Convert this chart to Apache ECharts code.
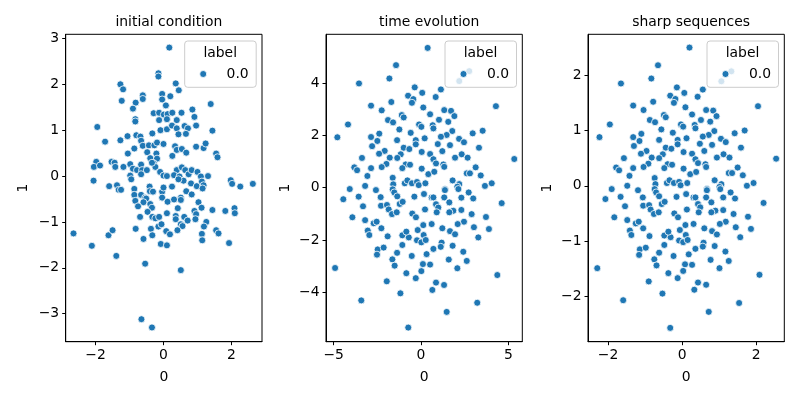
<!DOCTYPE html>
<html>
<head>
<meta charset="utf-8">
<script src="https://cdn.jsdelivr.net/npm/echarts@6/dist/echarts.min.js"></script>
<style>
  html, body { margin: 0; padding: 0; background: #fff; }
  #chart { width: 800px; height: 400px; }
</style>
</head>
<body>
<div id="chart"></div>
<script>
// panel titles
const titles = ['initial condition', 'time evolution', 'sharp sequences']
const legendTitle = 'label'
const seriesName = '0.0'

// initial condition
const initX = [-0.15,-0.15,-1.27,-1.19,-1.23,-0.61,-0.61,-0.82,-0.90,-0.04,
  -0.04,-1.95,-0.83,-0.83,-0.29,-0.13,-0.13,0.01,-0.09,-0.33,
  -1.72,-1.27,-1.06,-0.80,-0.68,-0.66,-0.86,-0.61,-0.43,-0.27,
  -0.19,-0.48,-0.21,-1.05,-0.39,-0.19,-0.29,-0.24,-1.98,-2.05,
  -1.87,-1.53,-1.44,-1.42,-1.18,-0.98,-0.90,-0.78,-0.66,-0.63,
  -0.49,-0.98,-0.66,-0.34,-0.10,0.00,-2.06,-1.60,-1.37,-0.86,
  -0.95,-0.41,
  -1.32,-1.25,-0.86,-0.66,-0.54,-0.51,-0.40,-0.31,-0.04,-0.04,
  -0.83,-0.59,-0.75,-0.39,-0.34,-0.47,-0.69,-0.33,-0.24,-0.13,
  -0.15,-0.06,-2.65,-2.11,-1.62,-1.50,-1.39,-0.82,-0.59,-0.37,
  -0.33,-0.54,-0.08,-0.65,-0.34,
  0.17,0.36,0.45,0.20,0.07,1.39,0.12,0.26,0.53,0.85,
  0.10,0.39,0.91,0.96,0.10,0.25,0.39,0.62,0.72,0.44,
  0.66,1.44,0.00,0.34,0.39,0.54,0.67,0.26,0.96,1.18,
  1.24,1.55,1.59,0.10,0.39,0.31,0.47,0.54,0.64,0.74,
  0.83,1.00,1.10,1.31,0.59,0.44,0.81,0.98,1.13,1.18,
  0.00,0.25,1.98,2.02,2.26,2.63,
  0.12,0.31,0.51,0.51,0.67,0.83,1.15,0.42,0.10,0.36,
  0.36,0.61,0.71,0.91,0.96,0.94,1.03,1.12,1.44,1.82,
  2.09,2.10,0.51,0.56,0.08,0.19,0.41,1.26,1.19,1.13,
  1.14,1.55,1.62,1.93,0.10,0.51]
const initY = [2.24,2.17,2.00,1.89,1.64,1.76,1.68,1.60,1.47,1.79,
  1.67,1.07,1.24,1.19,1.37,1.38,1.22,1.34,1.00,0.93,
  0.75,0.78,0.87,0.89,0.86,0.77,0.60,0.66,0.67,0.67,
  0.73,0.52,0.49,0.49,0.39,0.38,0.28,0.20,0.31,0.20,
  0.23,0.31,0.29,0.20,0.20,0.26,0.16,0.13,0.25,0.13,
  0.13,0.01,0.04,0.29,0.09,0.01,-0.10,-0.22,-0.20,-0.28,
  -0.07,-0.23,
  -0.30,-0.30,-0.41,-0.41,-0.47,-0.49,-0.33,-0.34,-0.34,-0.47,
  -0.54,-0.57,-0.66,-0.61,-0.69,-0.78,-0.89,-0.89,-0.92,-0.89,
  -1.10,-1.05,-1.25,-1.52,-1.29,-1.18,-1.74,-1.15,-1.37,-1.15,
  -1.29,-1.91,-1.48,-3.12,-3.30,
  2.80,2.02,1.87,1.74,1.54,1.57,1.35,1.38,1.38,1.45,
  1.24,1.22,1.29,1.10,1.02,1.10,1.04,1.09,1.04,0.91,
  0.92,0.99,0.70,0.65,0.57,0.59,0.51,0.44,0.64,0.61,
  0.71,0.49,0.41,0.00,0.13,0.02,-0.01,0.19,0.13,0.04,
  0.13,0.09,-0.01,0.00,-0.10,-0.07,-0.16,-0.22,-0.12,-0.20,
  -0.25,-0.23,-0.09,-0.17,-0.23,-0.17,
  -0.56,-0.51,-0.47,-0.52,-0.33,-0.40,-0.27,-0.70,-0.81,-0.87,
  -0.94,-0.89,-0.97,-0.76,-0.83,-0.94,-0.57,-0.69,-0.74,-0.76,
  -0.70,-0.81,-1.05,-1.09,-1.20,-1.27,-1.18,-1.00,-1.10,-1.26,
  -1.40,-1.18,-1.25,-1.46,-1.51,-2.05]

// time evolution
const timeX = [-1.43,-1.81,-3.55,-0.36,0.07,-0.74,-0.44,-0.52,-1.70,-2.86,
  -2.25,0.13,-1.10,-0.99,-1.89,-1.60,-4.18,-0.11,0.02,-1.24,
  -0.59,-4.79,-2.86,-2.39,-2.50,-2.80,-1.37,-0.30,-0.30,0.21,
  -0.99,-0.67,-2.08,-2.40,-1.16,-1.36,-1.79,0.04,-3.38,-1.98,
  -2.25,-0.88,-0.63,-1.07,0.04,-3.82,-3.66,-2.86,-3.07,-1.62,
  -4.08,-3.20,-2.58,-1.59,-1.62,-0.93,-0.78,-0.52,-0.23,-0.13,
  0.25,-1.53,-1.36,-4.45,-3.57,-3.32,-2.31,-2.29,-1.95,-1.85,
  -1.66,-1.39,-1.22,-1.05,-0.38,0.17,-3.93,-3.20,-2.71,-2.54,
  -2.27,-3.05,-2.96,-1.91,-0.50,-0.29,0.23,-1.07,-0.70,-0.84,
  -0.19,0.13,0.15,-0.23,0.02,-1.07,-2.48,-2.52,-2.14,-1.37,
  -1.64,-1.51,-0.53,0.11,-4.92,-0.84,0.02,-0.30,-1.96,-1.18,
  -3.42,-0.73,0.38,1.14,0.84,4.29,1.33,1.72,1.91,0.52,
  1.03,1.56,0.67,0.71,1.79,1.47,1.14,3.53,2.96,2.18,
  2.46,0.96,1.66,3.32,1.22,0.52,0.71,0.86,1.28,1.33,
  1.95,2.33,2.67,5.34,0.42,0.76,3.13,2.62,2.80,3.42,
  1.81,2.19,2.08,1.37,3.66,4.05,0.61,0.71,0.86,0.99,
  0.90,1.37,1.33,1.62,1.85,1.62,2.14,2.31,2.73,2.99,
  4.62,2.31,2.90,2.46,2.10,3.03,3.72,3.89,3.28,0.61,
  1.22,1.66,1.95,0.27,1.18,1.13,0.71,1.81,0.32,2.42,
  2.62,1.59,0.52,2.08,4.37,0.86,1.32,0.65,3.22,1.47,
  2.76,2.19]
const timeY = [4.69,4.18,3.99,3.84,3.63,3.52,3.39,3.25,3.28,3.14,
  2.96,3.07,2.78,2.69,2.59,2.50,2.42,2.42,2.33,2.23,
  2.10,1.93,1.94,2.07,1.79,1.59,1.82,1.82,1.66,1.89,
  1.53,1.48,1.41,1.30,1.28,1.14,1.15,1.37,1.14,0.91,
  0.79,0.89,0.88,0.75,0.73,0.78,0.67,0.75,0.45,0.38,
  -0.05,0.07,-0.09,0.13,-0.06,0.17,0.28,0.17,0.22,0.10,
  0.17,-0.18,-0.33,-0.44,-0.34,-0.71,-0.36,-0.69,-0.66,-0.83,
  -1.01,-0.94,-0.62,-0.54,-0.34,-0.24,-1.13,-1.24,-1.36,-1.30,
  -1.55,-1.64,-1.81,-1.86,-0.99,-1.13,-0.83,-1.82,-1.90,-1.68,
  -1.62,-1.43,-1.81,-2.01,-2.09,-2.19,-2.36,-2.56,-2.29,-2.49,
  -2.74,-2.98,-2.61,-2.92,-3.07,-3.27,-3.19,-3.46,-3.58,-4.04,
  -4.31,-5.35,5.35,3.76,3.47,3.12,2.97,2.94,2.74,2.81,
  2.60,2.52,2.39,2.27,2.17,2.02,1.95,2.18,2.08,1.87,
  1.74,1.67,1.63,1.53,1.40,1.29,1.09,0.93,0.89,0.80,
  1.15,1.28,1.15,1.10,0.52,0.61,0.78,0.55,0.55,0.47,
  0.28,0.14,0.04,-0.06,0.07,0.17,-0.37,-0.37,-0.63,-0.76,
  -0.94,-0.09,-0.37,-0.56,-0.88,-0.94,-0.05,-0.38,-0.18,-0.41,
  -0.59,-0.85,-1.01,-1.30,-1.39,-1.51,-1.12,-1.58,-1.90,-1.39,
  -1.55,-1.66,-1.78,-2.00,-2.10,-2.26,-2.34,-2.22,-2.54,-2.45,
  -2.80,-2.75,-2.94,-3.08,-3.34,-3.63,-3.72,-3.91,-4.40,-4.75,
  4.46,4.08]

// sharp sequences
const sharpX = [-0.65,-0.83,-1.65,-0.14,0.06,-0.32,-0.18,-0.22,-0.78,-1.32,
  -1.04,0.09,-0.49,-0.44,-0.87,-0.73,-1.95,-0.03,0.03,-0.56,
  -0.25,-2.23,-1.32,-1.10,-1.15,-1.30,-0.62,-0.12,-0.12,0.12,
  -0.44,-0.29,-0.96,-1.11,-0.52,-0.62,-0.82,0.04,-1.57,-0.91,
  -1.04,-0.39,-0.27,-0.48,0.04,-1.78,-1.70,-1.32,-1.42,-0.74,
  -1.90,-1.48,-1.19,-0.72,-0.74,-0.41,-0.34,-0.22,-0.08,-0.04,
  0.14,-0.70,-0.62,-2.07,-1.66,-1.54,-1.06,-1.05,-0.89,-0.85,
  -0.76,-0.63,-0.55,-0.47,-0.15,0.11,-1.83,-1.48,-1.25,-1.17,
  -1.05,-1.41,-1.37,-0.88,-0.21,-0.11,0.13,-0.48,-0.31,-0.37,
  -0.06,0.09,0.10,-0.08,0.03,-0.48,-1.14,-1.16,-0.98,-0.62,
  -0.75,-0.69,-0.23,0.08,-2.29,-0.37,0.03,-0.12,-0.90,-0.53,
  -1.59,-0.32,0.20,0.56,0.42,2.05,0.65,0.84,0.93,0.27,
  0.51,0.76,0.34,0.36,0.87,0.72,0.56,1.69,1.42,1.05,
  1.18,0.48,0.81,1.59,0.60,0.27,0.36,0.43,0.63,0.65,
  0.94,1.12,1.28,2.54,0.22,0.38,1.50,1.26,1.35,1.64,
  0.88,1.06,1.01,0.67,1.75,1.93,0.31,0.36,0.43,0.49,
  0.45,0.67,0.65,0.79,0.90,0.79,1.03,1.11,1.31,1.43,
  2.20,1.11,1.39,1.18,1.02,1.45,1.78,1.86,1.57,0.31,
  0.60,0.81,0.94,0.15,0.58,0.56,0.36,0.88,0.18,1.17,
  1.26,0.77,0.27,1.01,2.09,0.43,0.65,0.33,1.54,0.72,
  1.33,1.06]
const sharpY = [2.18,1.94,1.85,1.78,1.68,1.63,1.57,1.50,1.52,1.45,
  1.37,1.42,1.28,1.24,1.19,1.15,1.11,1.11,1.07,1.02,
  0.96,0.88,0.88,0.94,0.81,0.72,0.83,0.83,0.75,0.86,
  0.69,0.67,0.63,0.58,0.57,0.50,0.51,0.61,0.50,0.40,
  0.34,0.39,0.38,0.32,0.31,0.33,0.28,0.32,0.18,0.14,
  -0.06,0.00,-0.08,0.03,-0.06,0.05,0.10,0.05,0.07,0.01,
  0.05,-0.12,-0.19,-0.24,-0.20,-0.37,-0.21,-0.36,-0.35,-0.43,
  -0.51,-0.48,-0.33,-0.29,-0.20,-0.15,-0.57,-0.62,-0.68,-0.65,
  -0.77,-0.81,-0.89,-0.91,-0.50,-0.57,-0.43,-0.90,-0.93,-0.83,
  -0.80,-0.71,-0.89,-0.99,-1.02,-1.07,-1.15,-1.25,-1.12,-1.21,
  -1.33,-1.44,-1.27,-1.42,-1.49,-1.58,-1.54,-1.67,-1.73,-1.95,
  -2.07,-2.57,2.50,1.74,1.61,1.44,1.37,1.36,1.26,1.29,
  1.19,1.16,1.10,1.04,0.99,0.92,0.89,1.00,0.95,0.85,
  0.79,0.76,0.74,0.69,0.63,0.58,0.48,0.41,0.39,0.34,
  0.51,0.57,0.51,0.49,0.21,0.25,0.33,0.23,0.23,0.19,
  0.10,0.03,-0.02,-0.06,0.00,0.05,-0.21,-0.21,-0.33,-0.39,
  -0.48,-0.08,-0.21,-0.30,-0.45,-0.48,-0.06,-0.21,-0.12,-0.23,
  -0.31,-0.44,-0.51,-0.65,-0.69,-0.75,-0.56,-0.78,-0.93,-0.69,
  -0.77,-0.82,-0.88,-0.98,-1.03,-1.10,-1.14,-1.09,-1.24,-1.19,
  -1.36,-1.34,-1.43,-1.49,-1.61,-1.75,-1.79,-1.88,-2.12,-2.28,
  2.07,1.89]

// tick labels
const initXTicks = [-2, 0, 2]
const initYTicks = [-3, -2, -1, 0, 1, 2, 3]
const timeXTicks = [-5, 0, 5]
const timeYTicks = [-4, -2, 0, 2, 4]
const sharpXTicks = [-2, 0, 2]
const sharpYTicks = [-2, -1, 0, 1, 2]

// axis limits (matplotlib autoscale)
const initXRange = [-2.88, 2.90]
const initYRange = [-3.61, 3.09]
const timeXRange = [-5.44, 5.80]
const timeYRange = [-5.89, 5.87]
const sharpXRange = [-2.54, 2.76]
const sharpYRange = [-2.82, 2.74]

const FONT = 'DejaVu Sans'
const FS = 13.9
const BLUE = '#1f77b4'

const panels = [
  { title: titles[0], xs: initX, ys: initY, xr: initXRange, yr: initYRange, xt: initXTicks, yt: initYTicks, left: 65.7, yGap: 35 },
  { title: titles[1], xs: timeX, ys: timeY, xr: timeXRange, yr: timeYRange, xt: timeXTicks, yt: timeYTicks, left: 326, yGap: 34 },
  { title: titles[2], xs: sharpX, ys: sharpY, xr: sharpXRange, yr: sharpYRange, xt: sharpXTicks, yt: sharpYTicks, left: 588, yGap: 34 }
]
const gridTop = 34.3
const gridW = 196.3
const gridH = 307.4

function fmt(v) {
  return v < 0 ? '\u2212' + (-v) : String(v)
}

function axisCommon(ticks) {
  return {
    type: 'value',
    axisLine: { show: true, onZero: false, lineStyle: { color: '#000', width: 1 } },
    axisTick: { show: true, inside: false, length: 3.5, customValues: ticks, lineStyle: { color: '#000', width: 1 } },
    axisLabel: { show: true, customValues: ticks, margin: 6.5, color: '#000', fontSize: FS, fontFamily: FONT, formatter: fmt },
    splitLine: { show: false },
    nameLocation: 'middle',
    nameTextStyle: { color: '#000', fontSize: FS, fontFamily: FONT }
  }
}

const grid = [], xAxis = [], yAxis = [], series = [], title = [], graphic = []
panels.forEach((p, i) => {
  grid.push({
    left: p.left, top: gridTop, width: gridW, height: gridH,
    show: true, borderColor: '#000', borderWidth: 1, backgroundColor: '#fff',
    containLabel: false, outerBoundsMode: 'none'
  })
  xAxis.push(Object.assign(axisCommon(p.xt), {
    gridIndex: i, min: p.xr[0], max: p.xr[1], name: '0', nameGap: 29
  }))
  yAxis.push(Object.assign(axisCommon(p.yt), {
    gridIndex: i, min: p.yr[0], max: p.yr[1], name: '1', nameGap: p.yGap
  }))
  series.push({
    name: seriesName,
    type: 'scatter',
    xAxisIndex: i,
    yAxisIndex: i,
    symbol: 'circle',
    symbolSize: 7,
    itemStyle: { color: BLUE, borderColor: '#fff', borderWidth: 0.8, opacity: 1 },
    data: p.xs.map((x, k) => [x, p.ys[k]]),
    z: 2
  })
  title.push({
    text: p.title,
    left: p.left + gridW / 2,
    top: 10,
    textAlign: 'center',
    textStyle: { fontSize: FS, fontWeight: 'normal', color: '#000', fontFamily: FONT }
  })
  // legend box: matplotlib style, upper right
  const right = p.left + gridW - 5.8
  const lx = right - 71.5
  graphic.push({
    type: 'group',
    z: 100,
    children: [
      { type: 'rect', shape: { x: lx, y: 41, width: 71.5, height: 46.3, r: 3 },
        style: { fill: 'rgba(255,255,255,0.8)', stroke: '#cccccc', lineWidth: 1 }, z: 100 },
      { type: 'text', z: 101, style: { text: legendTitle, x: lx + 35.5, y: 53.5, fill: '#000',
        font: FS + 'px "' + FONT + '"', textAlign: 'center', textVerticalAlign: 'middle', align: 'center', verticalAlign: 'middle' } },
      { type: 'circle', z: 101, shape: { cx: lx + 18.5, cy: 74, r: 3.5 },
        style: { fill: BLUE, stroke: '#fff', lineWidth: 0.8 } },
      { type: 'text', z: 101, style: { text: seriesName, x: right - 7.5, y: 74, fill: '#000',
        font: FS + 'px "' + FONT + '"', textAlign: 'right', textVerticalAlign: 'middle', align: 'right', verticalAlign: 'middle' } }
    ]
  })
})

const chart = echarts.init(document.getElementById('chart'), null, { renderer: 'canvas' })
chart.setOption({
  animation: false,
  backgroundColor: '#fff',
  title: title,
  grid: grid,
  xAxis: xAxis,
  yAxis: yAxis,
  series: series,
  graphic: graphic
})
</script>
</body>
</html>
